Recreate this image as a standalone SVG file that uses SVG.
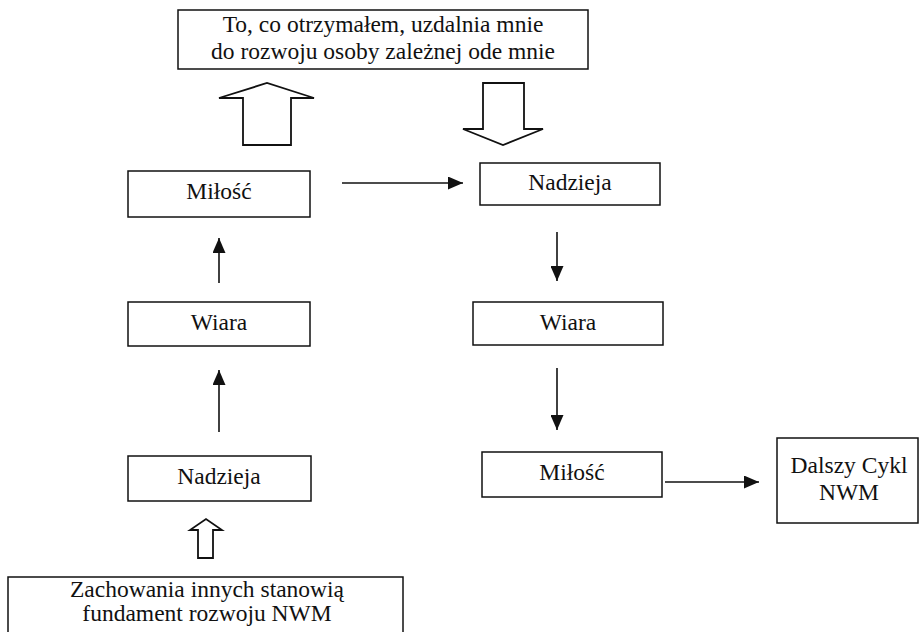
<svg xmlns="http://www.w3.org/2000/svg" width="921" height="632" viewBox="0 0 921 632">
<style>
.box{fill:#fff;stroke:#111;stroke-width:1.5}
.t{fill:#111;text-anchor:middle}
.c{stroke:#111;stroke-width:1.6;fill:none}
.h{fill:#fff;stroke:#111;stroke-width:1.8;stroke-linejoin:miter}
</style>
<defs>
<marker id="ah" markerUnits="userSpaceOnUse" markerWidth="16" markerHeight="13" refX="15" refY="6.5" orient="auto">
<path d="M0,0 L15,6.5 L0,13 z" fill="#111"/>
</marker>
</defs>
<rect width="921" height="632" fill="#fff"/>
<g id="top">
<rect class="box" x="178" y="10" width="410" height="59"/>
<text class="t" x="383" y="32" style="font-family:'Liberation Serif',serif;font-size:23.5px">To, co otrzymałem, uzdalnia mnie</text>
<text class="t" x="383" y="59" style="font-family:'Liberation Serif',serif;font-size:23.5px">do rozwoju osoby zależnej ode mnie</text>
</g>
<g id="milosc1">
<rect class="box" x="128" y="171" width="182" height="46"/>
<text class="t" x="219" y="199" style="font-family:'Liberation Serif',serif;font-size:23.5px">Miłość</text>
</g>
<g id="wiara1">
<rect class="box" x="128" y="302" width="182" height="44"/>
<text class="t" x="219" y="330" style="font-family:'Liberation Serif',serif;font-size:23.5px">Wiara</text>
</g>
<g id="nadzieja1">
<rect class="box" x="128" y="456" width="183" height="45"/>
<text class="t" x="219" y="484" style="font-family:'Liberation Serif',serif;font-size:23.5px">Nadzieja</text>
</g>
<g id="fundament">
<rect class="box" x="8" y="577" width="395" height="70"/>
<text class="t" x="207" y="597" style="font-family:'Liberation Serif',serif;font-size:23.5px">Zachowania innych stanowią</text>
<text class="t" x="207" y="621" style="font-family:'Liberation Serif',serif;font-size:23.5px">fundament rozwoju NWM</text>
</g>
<g id="nadzieja2">
<rect class="box" x="480" y="163" width="180" height="42"/>
<text class="t" x="570" y="190" style="font-family:'Liberation Serif',serif;font-size:23.5px">Nadzieja</text>
</g>
<g id="wiara2">
<rect class="box" x="473" y="302" width="190" height="43"/>
<text class="t" x="568" y="330" style="font-family:'Liberation Serif',serif;font-size:23.5px">Wiara</text>
</g>
<g id="milosc2">
<rect class="box" x="482" y="452" width="180" height="45"/>
<text class="t" x="572" y="480" style="font-family:'Liberation Serif',serif;font-size:23.5px">Miłość</text>
</g>
<g id="dalszy">
<rect class="box" x="777" y="438" width="141" height="85"/>
<text class="t" x="849" y="473" style="font-family:'Liberation Serif',serif;font-size:23.5px">Dalszy Cykl</text>
<text class="t" x="849" y="500" style="font-family:'Liberation Serif',serif;font-size:23.5px">NWM</text>
</g>
<g id="connectors">
<path class="h" d="M243,145 L243,98 L219,98 L267,83 L314,98 L291,98 L291,145 Z"/>
<path class="h" d="M483,83 L524,83 L524,129 L543,129 L503,145 L463,129 L483,129 Z"/>
<path class="h" d="M198,558 L198,530 L190,530 L206,519 L222,530 L213,530 L213,558 Z"/>
<line class="c" x1="219" y1="283" x2="219" y2="238" marker-end="url(#ah)"/>
<line class="c" x1="219" y1="432" x2="219" y2="370" marker-end="url(#ah)"/>
<line class="c" x1="342" y1="183" x2="463" y2="183" marker-end="url(#ah)"/>
<line class="c" x1="557" y1="232" x2="557" y2="281" marker-end="url(#ah)"/>
<line class="c" x1="557" y1="368" x2="557" y2="430" marker-end="url(#ah)"/>
<line class="c" x1="665" y1="482" x2="759" y2="482" marker-end="url(#ah)"/>
</g>
</svg>
